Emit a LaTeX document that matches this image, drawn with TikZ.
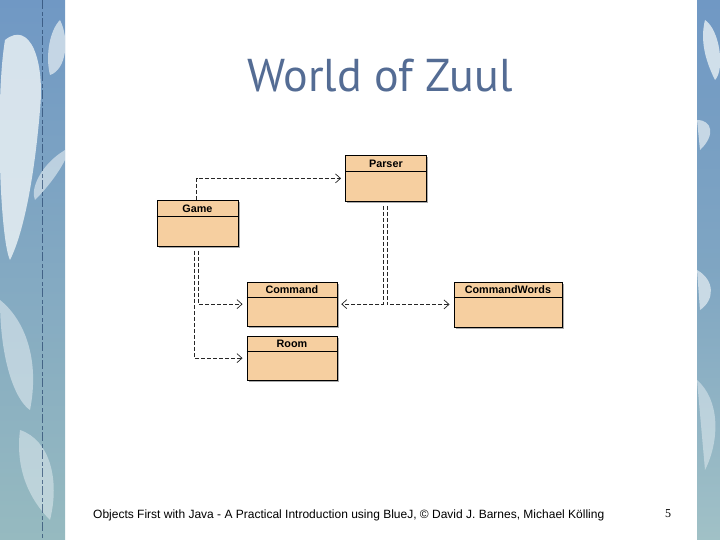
\documentclass[tikz,border=0pt]{standalone}
\usepackage{fontspec}
\setmainfont{Liberation Sans}
\newfontfamily\titlefont{PT Sans}
\newfontfamily\numfont{Liberation Serif}
\usetikzlibrary{arrows.meta,shadows,calc}
\definecolor{boxfill}{RGB}{246,207,160}
\definecolor{titleblue}{RGB}{84,108,148}
\definecolor{stripblue}{RGB}{112,152,196}
\definecolor{stripgreen}{RGB}{150,186,192}
\definecolor{blobwhite}{RGB}{232,240,244}
\definecolor{seamblue}{RGB}{40,70,110}
\newcommand\umlclass[6]{%
  \node[classbox, minimum width=#4pt, minimum height=#5pt] (#1) at (#2,#3) {};
  \draw[headerline] ([yshift=-16pt]#1.north west) -- ([yshift=-16pt]#1.north east);
  \node[classname] (#1-name) at ([yshift=-8.5pt]#1.north) {#6};
}
\begin{document}
\begin{tikzpicture}[x=1pt,y=-1pt,
  classbox/.style={draw=black, line width=0.8pt, fill=boxfill, anchor=north west, inner sep=0pt,
    drop shadow={shadow xshift=2pt, shadow yshift=-2pt, fill=black!55, opacity=0.6}},
  headerline/.style={draw=black, line width=0.6pt},
  classname/.style={font=\fontsize{10.8}{12}\selectfont\bfseries, inner sep=0pt},
  dep/.style={draw=black!85, line width=0.7pt, dash pattern=on 4pt off 2pt,
    -{Straight Barb[length=5pt,width=9pt]}, shorten >=4pt}]
\useasboundingbox (0,0) rectangle (720,540);
\fill[white] (0,0) rectangle (720,540);
% left strip
\begin{scope}
\clip (0,0) rectangle (65,540);
\shade[top color=stripblue, bottom color=stripgreen] (0,0) rectangle (65,540);
\fill[blobwhite, opacity=0.85] (5,40) .. controls (30,20) and (45,60) .. (40,110) .. controls (35,170) and (25,230) .. (10,260) .. controls (0,240) and (-5,100) .. (5,40);
\fill[blobwhite, opacity=0.7] (60,20) .. controls (70,40) and (66,70) .. (50,75) .. controls (45,55) and (50,30) .. (60,20);
\fill[blobwhite, opacity=0.6] (65,150) .. controls (40,165) and (30,190) .. (35,200) .. controls (50,185) and (60,170) .. (65,160);
\fill[blobwhite, opacity=0.55] (0,300) .. controls (25,320) and (40,360) .. (30,410) .. controls (15,400) and (0,360) .. (0,300);
\fill[blobwhite, opacity=0.5] (20,430) .. controls (50,440) and (60,480) .. (50,520) .. controls (30,500) and (15,470) .. (20,430);
\draw[seamblue, opacity=0.7, line width=0.7pt, dash pattern=on 9pt off 3pt on 4pt off 2pt] (42,0) -- (42,540);
\end{scope}
% right strip
\begin{scope}
\clip (697,0) rectangle (720,540);
\shade[top color=stripblue, bottom color=stripgreen!90!white, middle color=stripblue!60!stripgreen] (697,0) rectangle (720,540);
\fill[blobwhite, opacity=0.8] (705,20) .. controls (720,30) and (725,70) .. (715,80) .. controls (705,60) and (700,40) .. (705,20);
\fill[blobwhite, opacity=0.7] (697,120) .. controls (712,120) and (716,135) .. (700,150) -- cycle;
\fill[blobwhite, opacity=0.7] (697,270) .. controls (715,280) and (715,300) .. (700,310) -- cycle;
\fill[blobwhite, opacity=0.5] (697,380) .. controls (720,400) and (720,440) .. (705,470) -- cycle;
\end{scope}
% title
\node[text=titleblue, anchor=base, inner sep=0pt] (title) at (380,92)
  {\titlefont\fontsize{46}{50}\selectfont World of Zuul};
% classes
\umlclass{parser}{345}{155}{81}{46}{Parser}
\umlclass{game}{156.5}{200}{81}{46}{Game}
\umlclass{command}{246.5}{281.5}{90}{44.5}{Command}
\umlclass{room}{246.5}{335.5}{90}{44.5}{Room}
\umlclass{cw}{453.5}{281.5}{108}{45}{CommandWords}
% dependencies
\draw[dep] ([xshift=40pt]game.north west) |- (parser.west);
\draw[dep, shorten <=4pt] ([xshift=42pt]game.south west) |- (command.west);
\draw[dep, shorten <=4pt] ([xshift=38pt]game.south west) |- (room.west);
\draw[dep, shorten <=4pt] ([xshift=38pt]parser.south west) |- (command.east);
\draw[dep, shorten <=4pt] ([xshift=42pt]parser.south west) |- (cw.west);
% footer
\node[anchor=base west, inner sep=0pt] (footer) at (93,518)
  {\fontsize{12}{14}\selectfont Objects First with Java - A Practical Introduction using BlueJ, \textcopyright{} David J. Barnes, Michael Kölling};
\node[anchor=base, inner sep=0pt] (pagenum) at (668,517) {\numfont\fontsize{12}{14}\selectfont 5};
\end{tikzpicture}
\end{document}
